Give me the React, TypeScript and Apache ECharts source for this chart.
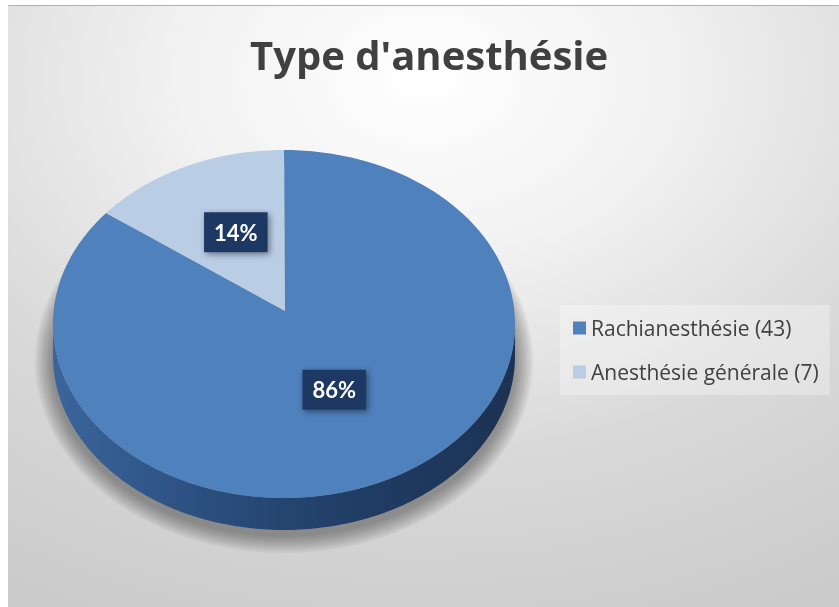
import React, { useEffect, useRef } from "react";
import * as echarts from "echarts";

const TITLE = "Type d'anesthésie";
const categories = ["Rachianesthésie", "Anesthésie générale"];
const counts = [43, 7];

const SLICE_COLORS = ["#4f81bd", "#b9cde5"];
const FONT = "Lato, 'Open Sans', sans-serif";
const WIDE_FONT = "'Open Sans', 'Noto Sans', sans-serif";
const W = 831;
const H = 602;

// pie geometry in chart pixels
const PIE = { cx: 276, cy: 319, rx: 231, ry: 174, depth: 32, apexX: 277, apexY: 306, labelK: 0.5 };

export default function App() {
  const ref = useRef<HTMLDivElement>(null);
  useEffect(() => {
    const chart = echarts.init(ref.current!, null, { renderer: "svg" });
    const total = counts.reduce((a, b) => a + b, 0);
    const starts = counts.map(
      (_, i) => (counts.slice(0, i).reduce((a, b) => a + b, 0) / total) * Math.PI * 2
    );
    const pt = (phi: number, dy = 0, grow = 0) => [
      PIE.cx + (PIE.rx + grow) * Math.sin(phi),
      PIE.cy - (PIE.ry + grow) * Math.cos(phi) + dy,
    ];
    const arc = (a: number, b: number, dy = 0, grow = 0) => {
      const n = Math.max(2, Math.ceil((b - a) / (Math.PI / 180)));
      const out: number[][] = [];
      for (let k = 0; k <= n; k++) out.push(pt(a + ((b - a) * k) / n, dy, grow));
      return out;
    };

    const renderItem = (params: any, api: any) => {
      const idx = params.seriesIndex;
      const v = api.value(0) as number;
      const a = starts[idx];
      const b = a + (v / total) * Math.PI * 2;
      const children: any[] = [];
      const wa = Math.max(a, Math.PI / 2);
      const wb = Math.min(b, (Math.PI * 3) / 2);
      if (wb > wa) {
        // soft drop shadow under the pie side
        for (let s = 9; s >= 1; s--) {
          children.push({
            type: "polygon",
            z2: 0,
            silent: true,
            shape: { points: arc(0, Math.PI * 2, PIE.depth + 5, s * 2) },
            style: { fill: "rgba(0,0,0,0.045)" },
          });
        }
        const wallPts = arc(wa, wb).concat(arc(wa, wb, PIE.depth).reverse());
        children.push({
          type: "polygon",
          z2: 1,
          shape: { points: wallPts },
          style: {
            fill: {
              type: "linear",
              x: PIE.cx - PIE.rx,
              y: 0,
              x2: PIE.cx + PIE.rx,
              y2: 0,
              global: true,
              colorStops: [
                { offset: 0, color: "#3b659c" },
                { offset: 0.35, color: "#2a4d7c" },
                { offset: 0.65, color: "#203d65" },
                { offset: 1, color: "#1c3253" },
              ],
            },
          },
        });
      }
      children.push({
        type: "polygon",
        z2: 5,
        shape: { points: [[PIE.apexX, PIE.apexY]].concat(arc(a, b)) },
        style: { fill: SLICE_COLORS[idx] },
      });
      const mid = (a + b) / 2;
      children.push({
        type: "text",
        z2: 100,
        x: PIE.apexX + PIE.labelK * PIE.rx * Math.sin(mid),
        y: PIE.apexY - PIE.labelK * PIE.ry * Math.cos(mid),
        style: {
          text: Math.round((v / total) * 100) + "%",
          fill: "#ffffff",
          font: `bold 22px ${FONT}`,
          align: "center",
          verticalAlign: "middle",
          lineHeight: 22,
          backgroundColor: "#1f3864",
          padding: [9, 10],
          shadowBlur: 6,
          shadowColor: "rgba(0,0,0,0.45)",
          shadowOffsetX: 2,
          shadowOffsetY: 2,
        },
      });
      return { type: "group", children };
    };

    chart.setOption({
      animation: false,
      title: {
        text: TITLE,
        left: 242,
        top: 29,
        padding: 0,
        textStyle: { fontFamily: WIDE_FONT, fontSize: 40, fontWeight: "bold", color: "#404040" },
      },
      legend: {
        orient: "vertical",
        left: 552,
        top: 300,
        padding: [11, 11, 11, 13],
        backgroundColor: "rgba(255,255,255,0.3)",
        itemWidth: 13,
        itemHeight: 13,
        itemGap: 20,
        data: categories.map((n) => ({ name: n, icon: "rect" })),
        formatter: (name: string) => `${name} (${counts[categories.indexOf(name)]})`,
        textStyle: { fontFamily: WIDE_FONT, fontSize: 21, lineHeight: 24, color: "#404040" },
      },
      graphic: [
        {
          type: "rect",
          z: -10,
          silent: true,
          shape: { x: 0, y: 0, width: W, height: H },
          style: {
            fill: {
              type: "radial",
              x: 0.5,
              y: 0.12,
              r: 1.15,
              colorStops: [
                { offset: 0, color: "#ffffff" },
                { offset: 0.25, color: "#f2f2f2" },
                { offset: 0.55, color: "#d9d9d9" },
                { offset: 0.8, color: "#cdcdcd" },
                { offset: 1, color: "#c4c4c4" },
              ],
            },
          },
        },
        {
          type: "line",
          z: -9,
          silent: true,
          shape: { x1: 0, y1: 0.5, x2: W, y2: 0.5 },
          style: { stroke: "#b0b0b0", lineWidth: 1 },
        },
      ],
      series: categories.map((name, i) => ({
        type: "custom",
        name,
        coordinateSystem: "none",
        renderItem,
        data: [counts[i]],
        itemStyle: { color: SLICE_COLORS[i] },
      })),
    });
    return () => chart.dispose();
  }, []);
  return (
    <div
      ref={ref}
      style={{ position: "fixed", left: 8, top: 5, width: W, height: H }}
    />
  );
}
